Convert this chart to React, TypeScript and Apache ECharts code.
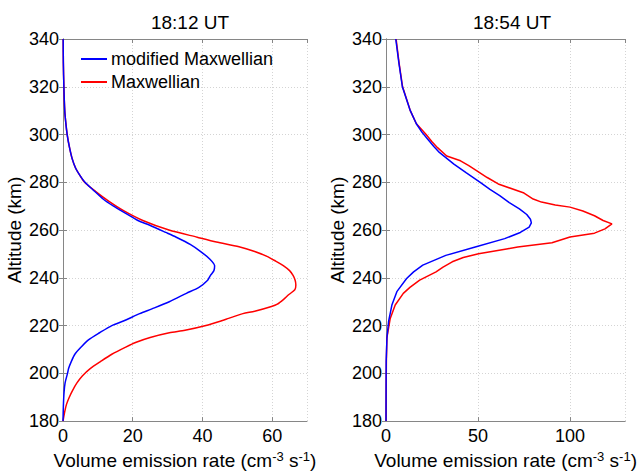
import React, { useEffect, useRef } from "react";
import * as echarts from "echarts";

const FONT = '"Liberation Sans", Arial, Helvetica, sans-serif';

const titles = ["18:12 UT", "18:54 UT"];
const seriesNames = ["modified Maxwellian", "Maxwellian"];
const yTickRange = [180, 340, 20];
const xRangeLeft = [0, 70, 20];
const xRangeRight = [0, 130, 50];

// 18:12 UT, modified Maxwellian
const leftModAlt = [340, 330, 320, 310, 305, 300, 295, 290, 286, 283, 280, 277, 273, 270, 267, 264, 262, 259, 257, 254, 251, 248, 245, 243, 241, 239, 236, 233.5, 230, 227, 225, 222, 220, 217, 214, 211, 208, 205, 202, 200, 196, 192, 186, 180];
const leftModVer = [0.05, 0.1, 0.25, 0.5, 0.8, 1.2, 1.8, 2.6, 3.6, 4.8, 6.3, 8.5, 11.5, 14.5, 18, 21.5, 24.9, 29.5, 32.5, 36.5, 39.5, 42, 43.5, 43.3, 42.3, 41.5, 39, 35.4, 30.5, 25.5, 22, 17.5, 14, 10.5, 7.3, 5.2, 3.4, 2.4, 1.6, 1.3, 0.6, 0.3, 0.1, 0];

// 18:12 UT, Maxwellian
const leftMaxAlt = [340, 330, 320, 310, 305, 300, 295, 290, 286, 283, 280, 276, 272, 268, 264, 260, 257, 255, 253, 251, 249, 247, 245, 243, 241, 239, 237, 235, 233, 231, 229, 228, 226, 225, 223, 222, 220, 218, 217, 215, 213, 211, 208, 205, 202, 199, 196, 193, 190, 187, 184, 180];
const leftMaxVer = [0.05, 0.1, 0.25, 0.5, 0.8, 1.2, 1.8, 2.6, 3.6, 4.8, 6.2, 9.5, 13.2, 17.5, 22.9, 30.4, 38.5, 44, 50.5, 55, 58.5, 61, 63.3, 65, 66, 66.6, 66.8, 66.5, 64.8, 63.3, 61.5, 59.8, 55, 51.6, 47.5, 45.5, 41, 35, 30.5, 25, 21, 18, 14, 10.8, 7.8, 5.6, 4, 2.8, 1.8, 1.0, 0.5, 0];

// 18:54 UT, modified Maxwellian
const rightModAlt = [340, 330, 320, 310, 304.5, 301, 298, 295, 292.5, 287.6, 284, 280, 277, 274.4, 271.5, 268.9, 266.5, 264.5, 263, 261.2, 259, 256.4, 252.9, 249.4, 245.3, 242.5, 239.7, 234.2, 228.6, 221.7, 214.7, 205, 195, 180];
const rightModVer = [5.3, 7, 8.9, 13.2, 16.5, 19.5, 22.7, 26, 29, 36.9, 43.5, 51.2, 56.5, 61.8, 67, 72.5, 76.5, 78.5, 79, 77.8, 73, 64.5, 48.5, 32.5, 20, 15, 11.2, 5.9, 3.2, 1.4, 0.5, 0.1, 0.05, 0];

// 18:54 UT, Maxwellian
const rightMaxAlt = [340, 330, 320, 310, 304.5, 302, 300, 297, 294.5, 291, 289, 287, 284.8, 282, 279.3, 275.5, 273, 271.7, 270.5, 269.6, 268, 266, 264, 262.6, 260.5, 258.7, 257.1, 254.7, 252.9, 252.2, 250.1, 248.5, 246.7, 244.5, 242.5, 239, 236, 233.5, 228.6, 223, 215, 205, 195, 180];
const rightMaxVer = [5.5, 7.1, 9, 13.2, 16.5, 19.5, 21.8, 25, 28, 33, 40.5, 45, 49.4, 55, 61, 75, 80, 84.5, 92, 100, 107, 113.3, 118, 122.8, 119, 113.3, 100, 90.2, 71.6, 66.3, 50.3, 42, 36, 31, 27.2, 18.3, 13, 9.4, 5, 2.3, 0.5, 0.2, 0.1, 0];

const pairs = (alt: number[], v: number[]) => alt.map((a, i) => [v[i], a]);

const AXIS_COLOR = "#868686";
const GRID_COLOR = "#d4d4d4";

function xAxes(gridIndex: number, range: number[]) {
  const common = {
    type: "value",
    gridIndex,
    min: range[0],
    max: range[1],
    interval: range[2],
    axisLine: { show: true, lineStyle: { color: AXIS_COLOR, width: 1 } },
    axisTick: { show: true, inside: true, length: 4, lineStyle: { color: AXIS_COLOR } },
  };
  return [
    {
      ...common,
      position: "bottom",
      name: "Volume emission rate (cm{sup|-3} s{sup|-1})",
      nameLocation: "middle",
      nameGap: 28,
      nameTextStyle: {
        fontFamily: FONT,
        fontSize: 19,
        color: "#000",
        rich: {
          sup: { fontFamily: FONT, fontSize: 13, color: "#000", verticalAlign: "top", padding: [0, 0, 8, 0] },
        },
      },
      axisLabel: { show: true, showMaxLabel: false, margin: 6, fontFamily: FONT, fontSize: 18, color: "#000" },
      splitLine: { show: true, lineStyle: { color: GRID_COLOR, type: [1, 2], width: 1 } },
    },
    {
      ...common,
      position: "top",
      axisLabel: { show: false },
      splitLine: { show: false },
    },
  ];
}

function yAxes(gridIndex: number) {
  const common = {
    type: "value",
    gridIndex,
    min: yTickRange[0],
    max: yTickRange[1],
    interval: yTickRange[2],
    axisLine: { show: true, lineStyle: { color: AXIS_COLOR, width: 1 } },
    axisTick: { show: true, inside: true, length: 4, lineStyle: { color: AXIS_COLOR } },
  };
  return [
    {
      ...common,
      position: "left",
      name: "Altitude (km)",
      nameLocation: "middle",
      nameGap: 39,
      nameTextStyle: { fontFamily: FONT, fontSize: 19, color: "#000" },
      axisLabel: { show: true, margin: 4, fontFamily: FONT, fontSize: 18, color: "#000" },
      splitLine: { show: true, lineStyle: { color: GRID_COLOR, type: [1, 2], width: 1 } },
    },
    {
      ...common,
      position: "right",
      axisLabel: { show: false },
      splitLine: { show: false },
    },
  ];
}

export default function App() {
  const ref = useRef<HTMLDivElement>(null);
  useEffect(() => {
    if (!ref.current) return;
    const chart = echarts.init(ref.current, undefined, { renderer: "svg" });
    const lineSeries = (name: string, color: string, data: number[][], xi: number, yi: number, smooth: number) => ({
      type: "line",
      name,
      data,
      xAxisIndex: xi,
      yAxisIndex: yi,
      symbol: "none",
      smooth,
      lineStyle: { color, width: 1.5 },
      itemStyle: { color },
      z: name === "Maxwellian" ? 3 : 4,
    });
    chart.setOption({
      animation: false,
      backgroundColor: "#fff",
      title: [
        { text: titles[0], left: 185, top: 8, textAlign: "center", textStyle: { fontFamily: FONT, fontSize: 19, fontWeight: "normal", color: "#000" } },
        { text: titles[1], left: 507, top: 8, textAlign: "center", textStyle: { fontFamily: FONT, fontSize: 19, fontWeight: "normal", color: "#000" } },
      ],
      legend: {
        data: seriesNames,
        orient: "vertical",
        left: 76,
        top: 45,
        icon: "rect",
        itemWidth: 26,
        itemHeight: 2,
        itemGap: 5,
        textStyle: { fontFamily: FONT, fontSize: 18, color: "#000", lineHeight: 18, padding: [0, 0, 0, -1] },
      },
      grid: [
        { left: 63, top: 39, width: 244, height: 384 },
        { left: 386, top: 39, width: 243, height: 384 },
      ],
      xAxis: [...xAxes(0, xRangeLeft), ...xAxes(1, xRangeRight)],
      yAxis: [...yAxes(0), ...yAxes(1)],
      series: [
        lineSeries(seriesNames[0], "#0000ff", pairs(leftModAlt, leftModVer), 0, 0, 0.25),
        lineSeries(seriesNames[1], "#ff0000", pairs(leftMaxAlt, leftMaxVer), 0, 0, 0.25),
        lineSeries(seriesNames[0], "#0000ff", pairs(rightModAlt, rightModVer), 2, 2, 0),
        lineSeries(seriesNames[1], "#ff0000", pairs(rightMaxAlt, rightMaxVer), 2, 2, 0),
      ],
    });
    return () => chart.dispose();
  }, []);
  return <div ref={ref} style={{ position: "absolute", left: 0, top: 0, width: 640, height: 475 }} />;
}
